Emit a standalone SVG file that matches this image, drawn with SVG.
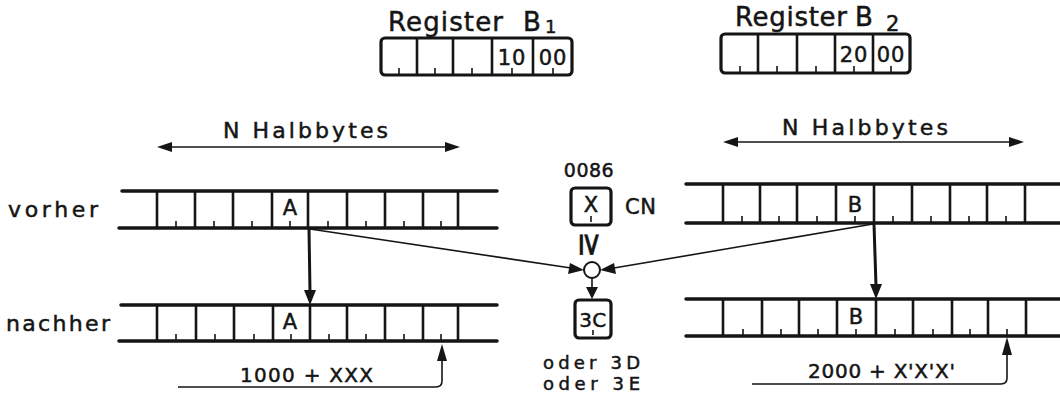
<svg xmlns="http://www.w3.org/2000/svg" width="1060" height="398" viewBox="0 0 1060 398">
<style>
text{font-family:"DejaVu Sans","Liberation Sans",sans-serif;fill:#151515;stroke:#151515;stroke-width:0.5}
.rail{stroke:#151515;stroke-width:3.5;stroke-linecap:round;fill:none}
.div{stroke:#151515;stroke-width:2.6;fill:none}
.tick{stroke:#151515;stroke-width:1.6;fill:none}
.box{stroke:#151515;stroke-width:3.2;fill:#fff}
.thin{stroke:#151515;stroke-width:1.6;fill:none}
.thick{stroke:#151515;stroke-width:3;fill:none}
.head{fill:#151515}
.lbl{font-size:22px}
.cell{font-size:21px;text-anchor:middle}
</style>
<rect width="1060" height="398" fill="#fff"/>

<g id="registerB1">
<text x="388" y="31" font-size="26" textLength="115" lengthAdjust="spacing">Register</text>
<text x="523" y="31" font-size="26">B</text>
<text x="545" y="33" font-size="18">1</text>
<rect class="box" x="381" y="38" width="191" height="37" rx="4"/>
<path class="div" d="M417 38V75M453 38V75M492 38V75M533 38V75"/>
<path class="tick" d="M399 74V68M435 74V68M472 74V68M512 74V68M553 74V68"/>
<text x="512" y="65" font-size="21" text-anchor="middle" letter-spacing="1">10</text>
<text x="553" y="65" font-size="21" text-anchor="middle" letter-spacing="1">00</text>
</g>

<g id="registerB2">
<text x="735" y="26" font-size="26" textLength="112" lengthAdjust="spacing">Register</text>
<text x="855" y="26" font-size="26">B</text>
<text x="886" y="31" font-size="21">2</text>
<rect class="box" x="721" y="34" width="189" height="39" rx="4"/>
<path class="div" d="M758 34V73M797 34V73M835 34V73M873 34V73"/>
<path class="tick" d="M740 72V66M777 72V66M816 72V66M854 72V66M891 72V66"/>
<text x="854" y="62" font-size="21" text-anchor="middle" letter-spacing="1">20</text>
<text x="891" y="62" font-size="21" text-anchor="middle" letter-spacing="1">00</text>
</g>

<g id="labels">
<text x="8" y="217" font-size="22" textLength="90" lengthAdjust="spacing">vorher</text>
<text x="6" y="331" font-size="22" textLength="104" lengthAdjust="spacing">nachher</text>
<text x="223" y="138" class="lbl" textLength="165" lengthAdjust="spacing">N Halbbytes</text>
<text x="782" y="135" class="lbl" textLength="166" lengthAdjust="spacing">N Halbbytes</text>
</g>

<g id="leftVorher">
<path class="rail" d="M122 191H497M119 228H497"/>
<path class="div" d="M157 191V228M195 191V228M233 191V228M272 191V228M308 191V228M347 191V228M385 191V228M423 191V228M458 191V228"/>
<path class="tick" d="M176 227V221M214 227V221M252 227V221M290 227V221M328 227V221M366 227V221M404 227V221M441 227V221"/>
<text x="290" y="215" class="cell">A</text>
</g>

<g id="leftNachher">
<path class="rail" d="M121 305H497M119 341H497"/>
<path class="div" d="M157 305V341M196 305V341M234 305V341M273 305V341M310 305V341M347 305V341M385 305V341M423 305V341M458 305V341"/>
<path class="tick" d="M176 340V334M215 340V334M254 340V334M291 340V334M329 340V334M366 340V334M404 340V334M441 340V334"/>
<text x="290" y="329" class="cell">A</text>
</g>

<g id="rightVorher">
<path class="rail" d="M686 184H1062M686 223H1062"/>
<path class="div" d="M723 184V223M760 184V223M797 184V223M836 184V223M874 184V223M912 184V223M950 184V223M987 184V223M1025 184V223"/>
<path class="tick" d="M742 222V216M779 222V216M817 222V216M855 222V216M893 222V216M931 222V216M969 222V216M1006 222V216"/>
<text x="855" y="212" class="cell">B</text>
</g>

<g id="rightNachher">
<path class="rail" d="M686 299H1062M686 336H1062"/>
<path class="div" d="M723 299V336M762 299V336M799 299V336M837 299V336M876 299V336M913 299V336M952 299V336M988 299V336M1026 299V336"/>
<path class="tick" d="M743 335V329M781 335V329M818 335V329M856 335V329M895 335V329M933 335V329M970 335V329M1007 335V329"/>
<text x="856" y="324" class="cell">B</text>
</g>

<g id="cn">
<text x="589" y="177" font-size="19" text-anchor="middle" letter-spacing="0.5">0086</text>
<rect class="box" x="571" y="188" width="40" height="37" rx="4"/>
<text x="591" y="212" class="cell">X</text>
<path class="tick" d="M591 222V216"/>
<text x="625" y="214" font-size="21" textLength="31" lengthAdjust="spacing">CN</text>
<text x="0" y="0" font-size="32" text-anchor="middle" transform="translate(591 245) rotate(90) translate(0 11)">≥</text>
</g>

<g id="compare">
<circle cx="592" cy="270" r="8" fill="#fff" stroke="#151515" stroke-width="2"/>
</g>

<g id="result">
<rect class="box" x="575" y="300" width="36" height="38" rx="4"/>
<text x="593" y="327" font-size="20" text-anchor="middle" letter-spacing="0.5">3C</text>
<path class="tick" d="M593 335V330"/>
<text x="543" y="369" font-size="18" textLength="97" lengthAdjust="spacing">oder 3D</text>
<text x="543" y="390" font-size="18" textLength="97" lengthAdjust="spacing">oder 3E</text>
</g>

<g id="pointerLabels">
<text x="240" y="382" font-size="20" textLength="133" lengthAdjust="spacing">1000 + XXX</text>
<text x="808" y="378" font-size="20" textLength="147" lengthAdjust="spacing">2000 + X'X'X'</text>
</g>

<g id="connectors">
<path class="thin" d="M170 147H448"/>
<polygon class="head" points="157,147 172,142 172,152"/>
<polygon class="head" points="460,147 445,142 445,152"/>
<path class="thin" d="M736 142H1012"/>
<polygon class="head" points="723,142 738,137 738,147"/>
<polygon class="head" points="1024,142 1009,137 1009,147"/>

<path class="thick" d="M309 229L310 292"/>
<polygon class="head" points="310,305 304,290 316,290"/>
<path class="thick" d="M874 224L876 286"/>
<polygon class="head" points="876,299 870,284 882,284"/>

<path class="thin" d="M310 229L571 268"/>
<polygon class="head" points="584,270 568,274 570,263"/>
<path class="thin" d="M873 224L614 268"/>
<polygon class="head" points="600,270 614,263 616,274"/>
<path class="thin" d="M592 278V288"/>
<polygon class="head" points="592,299 586,287 598,287"/>

<path class="thin" d="M178 387H436Q442 387 442 381V358"/>
<polygon class="head" points="442,344 437,361 447,361"/>
<path class="thin" d="M752 384H1001Q1007 384 1007 378V352"/>
<polygon class="head" points="1007,337 1002,355 1012,355"/>
</g>
</svg>
